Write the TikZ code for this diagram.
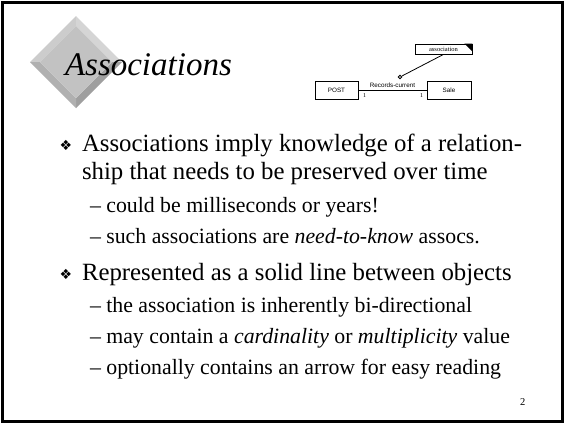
\documentclass[tikz,border=0pt]{standalone}
\usepackage{fontspec}
\setmainfont{Liberation Serif}
\newfontfamily\umlsans{Liberation Sans}
\newfontfamily\dingfont{DejaVu Sans}
\begin{document}
\begin{tikzpicture}[x=1pt,y=-1pt,
  txt/.style={anchor=base west,inner sep=0pt,outer sep=0pt},
  mainitem/.style={txt,font=\fontsize{24.8}{28}\selectfont},
  subitem/.style={txt,font=\fontsize{21.8}{26}\selectfont},
  bulletmark/.style={inner sep=0pt,font=\dingfont\fontsize{14}{16}\selectfont},
  umlbox/.style={draw,line width=0.8pt,inner sep=0pt,font=\umlsans\fontsize{6.3}{7}\selectfont},
  small/.style={inner sep=0pt,font=\fontsize{6}{7}\selectfont}]
\useasboundingbox (0,0) rectangle (565,424);
\fill[white] (0,0) rectangle (565,424);
\draw[line width=2.5pt] (2.5,2.5) rectangle (562.5,421.5);
% diamond
\coordinate (T) at (76,16); \coordinate (R) at (122,62);
\coordinate (B) at (76,108); \coordinate (L) at (30,62);
\coordinate (t) at (76,26); \coordinate (r) at (112,62);
\coordinate (b) at (76,98); \coordinate (l) at (40,62);
\fill[gray!40] (L) -- (T) -- (t) -- (l) -- cycle;
\fill[gray!33] (T) -- (R) -- (r) -- (t) -- cycle;
\fill[gray!75] (R) -- (B) -- (b) -- (r) -- cycle;
\fill[gray!62] (B) -- (L) -- (l) -- (b) -- cycle;
\fill[gray!48] (t) -- (r) -- (b) -- (l) -- cycle;
% title
\node[txt,font=\fontsize{33}{40}\selectfont\itshape] (title) at (65,75) {Associations};
% UML sketch
\node[umlbox,minimum width=43pt,minimum height=18pt] (post) at (336.5,90) {POST};
\node[umlbox,minimum width=44pt,minimum height=18pt] (sale) at (449,90) {Sale};
\node[draw,line width=0.8pt,inner sep=0pt,minimum width=57pt,minimum height=10pt,font=\fontsize{6.5}{7}\selectfont] (note) at (443.5,49) {association};
\fill (note.north east) ++(-8,0) -- (note.north east) -- ++(0,8) -- cycle;
\draw[line width=0.7pt] (post.east) -- (sale.west);
\node[inner sep=0pt,font=\umlsans\fontsize{6.3}{7}\selectfont] (assoc) at (392.5,85) {Records-current};
\node[small,anchor=base west] (m1) at (363,97.5) {1};
\node[small,anchor=base west] (m2) at (420,97.5) {1};
\node[circle,draw,line width=0.8pt,inner sep=0pt,minimum size=3.5pt] (dot) at (400,77) {};
\draw[line width=0.8pt] (note.south) -- (dot);
% body text
\node[bulletmark] (b1) at (66,145) {❖};
\node[mainitem] (l1) at (82,151) {Associations imply knowledge of a relation-};
\node[mainitem] (l2) at (82,179) {ship that needs to be preserved over time};
\node[subitem] (s1) at (90,212) {– could be milliseconds or years!};
\node[subitem] (s2) at (90,243) {– such associations are \textit{need-to-know} assocs.};
\node[bulletmark] (b2) at (66,274) {❖};
\node[mainitem] (l3) at (82,280) {Represented as a solid line between objects};
\node[subitem] (s3) at (90,312) {– the association is inherently bi-directional};
\node[subitem] (s4) at (90,343) {– may contain a \textit{cardinality} or \textit{multiplicity} value};
\node[subitem] (s5) at (90,374) {– optionally contains an arrow for easy reading};
\node[txt,font=\fontsize{10.5}{12}\selectfont] (pg) at (520,405) {2};
\end{tikzpicture}
\end{document}
